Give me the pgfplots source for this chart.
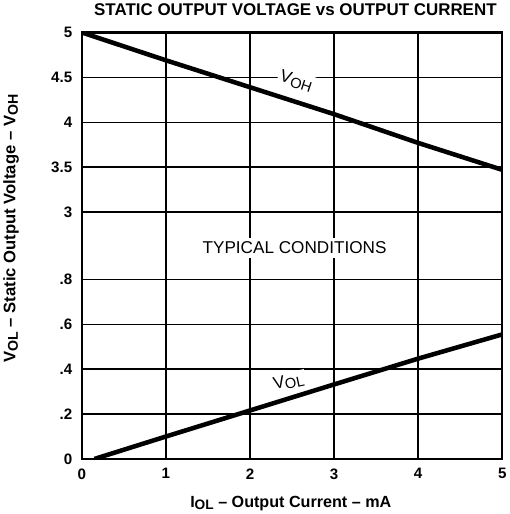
\documentclass[border=0pt]{standalone}
\usepackage{fontspec}
\setmainfont{Liberation Sans}
\usepackage{pgfplots}
\usepackage{pgfplotstable}
\pgfplotsset{compat=1.18}
% Output current (mA) vs voltage (V)
\pgfplotstableread{
I V
0 5.00
1 4.69
2 4.39
3 4.09
4 3.77
5 3.47
}\voh
\pgfplotstableread{
I V
0.15 0.000
1 0.100
2 0.216
3 0.332
4 0.447
5 0.555
}\vol
\newcommand{\sub}[1]{\raisebox{-2.5pt}{\scalebox{0.85}{#1}}}
\begin{document}
\begin{tikzpicture}
\begin{axis}[
  scale only axis, width=417pt, height=423pt,
  xmin=0, xmax=5, ymin=0, ymax=9.5,
  xtick={0,1,2,3,4,5}, xticklabels={0,1,2,3,4,5},
  ytick={0,1,2,3,4,5.5,6.5,7.5,8.5,9.5},
  yticklabels={0,.2,.4,.6,.8,3,3.5,4,4.5,5},
  grid=major, grid style={black, line width=1.4pt},
  axis line style={line width=2.4pt},
  major tick length=0pt,
  tick label style={font=\fontsize{15}{17}\selectfont\bfseries},
  yticklabel style={xshift=-6pt},
  xticklabel style={yshift=-6pt},
  title={STATIC OUTPUT VOLTAGE vs OUTPUT CURRENT},
  title style={font=\fontsize{16.8}{19}\selectfont\bfseries, at={(axis description cs:0.508,1.04)}, anchor=center},
  xlabel={I\sub{OL} -- Output Current -- mA},
  xlabel style={font=\fontsize{16}{18}\selectfont\bfseries, at={(axis description cs:0.497,-0.104)}, anchor=center},
  ylabel={V\sub{OL} -- Static Output Voltage -- V\sub{OH}},
  ylabel style={font=\fontsize{16.5}{18}\selectfont\bfseries, at={(axis description cs:-0.168,0.54)}, anchor=center},
]
\node[fill=white, inner sep=4pt, font=\fontsize{17}{19}\selectfont] at (axis cs:2.53,4.7) {TYPICAL CONDITIONS};
\node[fill=white, inner sep=2pt, rotate=-18, font=\fontsize{17}{19}\selectfont] at (axis cs:2.55,8.42) {V\sub{OH}};
\node[fill=white, inner sep=2pt, rotate=12, font=\fontsize{17}{19}\selectfont] at (axis cs:2.46,1.72) {V\sub{OL}};
\addplot[black, line width=4.5pt] table[x=I, y expr={5.5+(\thisrow{V}-3)/0.5}] {\voh};
\addplot[black, line width=4.5pt] table[x=I, y expr={\thisrow{V}/0.2}] {\vol};
\end{axis}
\end{tikzpicture}
\end{document}
